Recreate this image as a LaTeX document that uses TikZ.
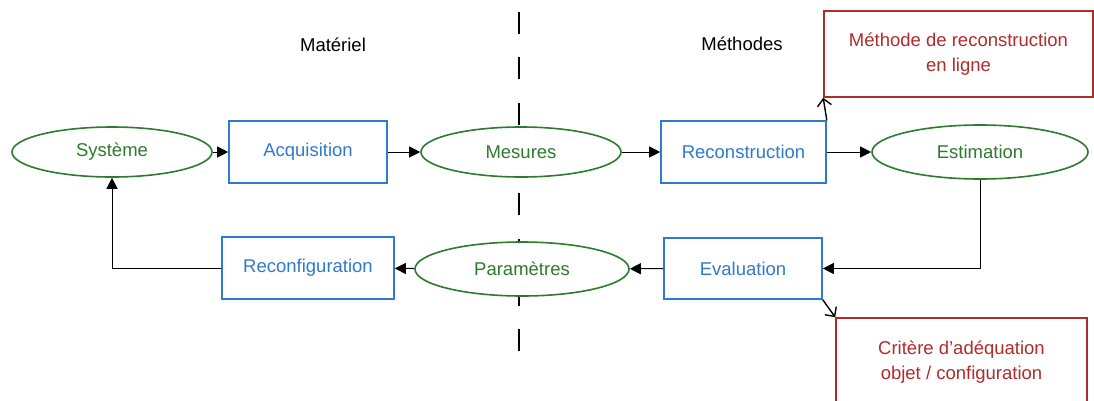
\documentclass[tikz,border=0pt]{standalone}
\usepackage{fontspec}
\setmainfont{Liberation Sans}
\usetikzlibrary{shapes.geometric,arrows.meta}
\definecolor{vert}{RGB}{46,122,46}
\definecolor{bleu}{RGB}{47,122,204}
\definecolor{rouge}{RGB}{178,43,43}
\begin{document}
\begin{tikzpicture}[x=1pt,y=-1pt,
    every node/.style={font=\fontsize{18.5}{25}\selectfont,inner sep=0pt},
    data node/.style={ellipse,draw=vert,text=vert,fill=white,line width=1.6pt},
    proc node/.style={rectangle,draw=bleu,text=bleu,fill=white,line width=1.6pt},
    note node/.style={rectangle,draw=rouge,text=rouge,fill=white,line width=1.6pt,align=center},
    flow/.style={line width=1pt,-{Triangle[length=11pt,width=11pt]}},
    link/.style={line width=1.4pt,-{Straight Barb[length=7pt,width=14pt,line width=1.4pt]}}]
  	\clip (0,0) rectangle (1094,400);
  	\fill[white] (0,0) rectangle (1094,400);
  	
  	% separation materiel / methodes
  	\draw[line width=1.2pt,dash pattern=on 22pt off 23.3pt] (519,12) -- (519,352);
  	\node at (333,45) (mat) {Matériel};
  	\node at (742,44) (meth) {Méthodes};
  	
  	\node[data node,minimum width=200pt,minimum height=50pt] at (112,152) (sys) {Système};
  	\node[proc node,minimum width=158pt,minimum height=62pt] at (308,152) (acq) {Acquisition};
  	\node[data node,minimum width=200pt,minimum height=50pt] at (521,152) (mes) {Mesures};
  	\node[proc node,minimum width=165pt,minimum height=62pt] at (743.5,152) (rec) {Reconstruction};
  	\node[data node,minimum width=216pt,minimum height=54pt] at (980,152) (est) {Estimation};
  	
  	\node[proc node,minimum width=158pt,minimum height=61pt] at (743,268.5) (eval) {Evaluation};
  	\node[data node,minimum width=214pt,minimum height=54pt] at (522,269) (par) {Paramètres};
  	\node[proc node,minimum width=172pt,minimum height=62pt] at (308,268) (reconf) {Reconfiguration};
  	
  	\node[note node,minimum width=269pt,minimum height=86pt] at (958.5,54) (enligne) {Méthode de reconstruction\\en ligne};
  	\node[note node,minimum width=251pt,minimum height=88pt] at (961.5,362) (crit) {Critère d’adéquation\\objet / configuration};
  	
  	\path[flow]
  	(sys) edge (acq)
  	(acq) edge (mes)
  	(mes) edge (rec)
  	(rec) edge (est)
  	(eval) edge (par)
  	(par) edge (reconf);
  	
  	\draw[flow] (est.south) |- (eval.east);
  	\draw[flow] (reconf.west) -| (sys.south);
  	
  	\draw[link] (rec.north east) -- (enligne.south west);
  	\draw[link] (eval.south east) -- (crit.north west);
\end{tikzpicture}
\end{document}
